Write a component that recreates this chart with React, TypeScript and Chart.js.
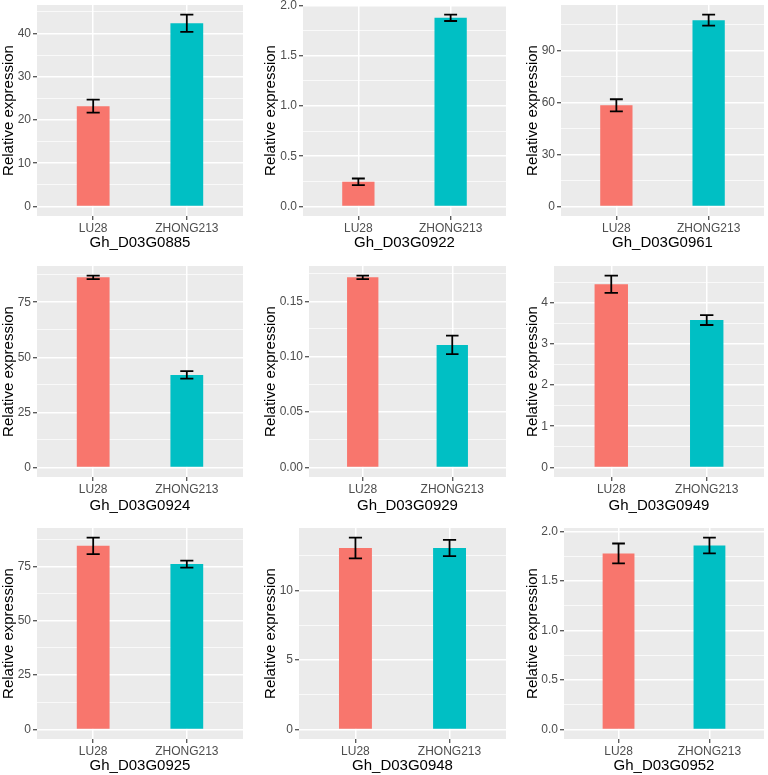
import React, { useEffect, useRef } from "react";
import { Chart, registerables } from "chart.js";

Chart.register(...registerables);

// ---------- data ----------
const genes = [
  "Gh_D03G0885", "Gh_D03G0922", "Gh_D03G0961",
  "Gh_D03G0924", "Gh_D03G0929", "Gh_D03G0949",
  "Gh_D03G0925", "Gh_D03G0948", "Gh_D03G0952",
];
const categories = ["LU28", "ZHONG213"];
const lu28Mean = [23.2, 0.245, 58.4, 86.3, 0.1716, 4.45, 84.5, 13.04, 1.78];
const lu28Sd = [1.5, 0.033, 3.5, 0.8, 0.0016, 0.21, 3.8, 0.75, 0.1];
const zhongMean = [42.4, 1.878, 107.6, 42.0, 0.1106, 3.58, 76.1, 13.04, 1.86];
const zhongSd = [2.0, 0.032, 3.2, 1.7, 0.0084, 0.12, 1.6, 0.58, 0.08];
const yTickStep = [10, 0.5, 30, 25, 0.05, 1, 25, 5, 0.5];
const yTickDecimals = [0, 1, 0, 0, 2, 0, 0, 0, 1];
const yTitle = "Relative expression";

// ---------- layout / style ----------
const barColors = ["#F8766D", "#00BFC4"];
const FONT = "'Liberation Sans', Arial, Helvetica, sans-serif";
const COL_X = [0, 256, 512];
const ROW_Y = [0, 261, 522];
const ROW_H = [261, 261, 253];
const PLOT_LEFT = [37, 303, 561, 37, 309, 554, 37, 299, 564];
const PLOT_RIGHT = [243, 506, 764, 243, 506, 764, 243, 506, 764];
const PLOT_TOP = [5, 5, 5, 266, 266, 266, 528, 528, 528];
const PLOT_BOTTOM = [216, 216, 216, 477, 477, 477, 739, 739, 739];
const YTITLE_PAD = [0, 6, 12];
const XTITLE_PAD = [9, 7, 0];

const bgPlugin = {
  id: "panelBg",
  beforeDraw(chart: any) {
    const { ctx, chartArea } = chart;
    ctx.save();
    ctx.fillStyle = "#EBEBEB";
    ctx.fillRect(chartArea.left, chartArea.top, chartArea.right - chartArea.left, chartArea.bottom - chartArea.top);
    ctx.restore();
  },
};

const errorBarPlugin = {
  id: "errorbars",
  afterDatasetsDraw(chart: any, _args: any, opts: any) {
    const { ctx } = chart;
    const xs = chart.scales.x;
    const ys = chart.scales.y;
    const meta = chart.getDatasetMeta(0);
    const ds = chart.data.datasets[0];
    ctx.save();
    ctx.strokeStyle = "#000000";
    ctx.lineWidth = 1.8;
    meta.data.forEach((el: any, i: number) => {
      const pt = ds.data[i];
      const sd = opts.sds[i];
      const x = el.x;
      const half = xs.getPixelForValue(pt.x + 0.07) - xs.getPixelForValue(pt.x);
      const yHi = ys.getPixelForValue(pt.y + sd);
      const yLo = ys.getPixelForValue(pt.y - sd);
      ctx.beginPath();
      ctx.moveTo(x, yHi);
      ctx.lineTo(x, yLo);
      ctx.moveTo(x - half, yHi);
      ctx.lineTo(x + half, yHi);
      ctx.moveTo(x - half, yLo);
      ctx.lineTo(x + half, yLo);
      ctx.stroke();
    });
    ctx.restore();
  },
};

function Panel({ idx }: { idx: number }) {
  const ref = useRef<HTMLCanvasElement>(null);
  const row = Math.floor(idx / 3);
  const col = idx % 3;
  const x0 = COL_X[col];
  const y0 = ROW_Y[row];
  const W = 256;
  const H = ROW_H[row];

  useEffect(() => {
    if (!ref.current) return;
    const means = [lu28Mean[idx], zhongMean[idx]];
    const sds = [lu28Sd[idx], zhongSd[idx]];
    const top = Math.max(means[0] + sds[0], means[1] + sds[1]);
    const yMin = -0.05 * top;
    const yMax = 1.05 * top;
    const step = yTickStep[idx];
    const half = step / 2;
    const dec = yTickDecimals[idx];

    const chart = new Chart(ref.current, {
      type: "bar",
      data: {
        datasets: [
          {
            data: categories.map((c, i) => ({ x: i + 1, y: means[i] })),
            backgroundColor: barColors,
            borderWidth: 0,
            barPercentage: 0.35,
            categoryPercentage: 1,
          } as any,
        ],
      },
      options: {
        responsive: false,
        animation: false,
        devicePixelRatio: 1,
        events: [],
        layout: {
          padding: {
            left: 0,
            top: PLOT_TOP[idx] - y0,
            right: x0 + W - PLOT_RIGHT[idx],
            bottom: 0,
          },
        },
        plugins: {
          legend: { display: false },
          tooltip: { enabled: false },
          errorbars: { sds },
        } as any,
        scales: {
          x: {
            type: "linear",
            min: 0.4,
            max: 2.6,
            offset: false,
            border: { display: false },
            grid: {
              offset: false,
              color: "#FFFFFF",
              lineWidth: 1.5,
              drawTicks: true,
              tickLength: 4,
              tickColor: "#333333",
              tickWidth: 1.1,
            },
            ticks: {
              autoSkip: false,
              maxRotation: 0,
              padding: 1,
              color: "#4D4D4D",
              font: { family: FONT, size: 12 },
              callback: (v: any) => categories[Math.round(Number(v)) - 1] ?? "",
            },
            title: {
              display: true,
              text: genes[idx],
              color: "#000000",
              font: { family: FONT, size: 15 },
              padding: { top: 0, bottom: XTITLE_PAD[row] },
            },
            afterBuildTicks: (s: any) => {
              s.ticks = categories.map((c, i) => ({ value: i + 1 }));
            },
            afterFit: (s: any) => {
              s.height = H - (PLOT_BOTTOM[idx] - y0);
              s.paddingLeft = 0;
              s.paddingRight = 0;
            },
          },
          y: {
            type: "linear",
            min: yMin,
            max: yMax,
            border: { display: false },
            grid: {
              color: "#FFFFFF",
              lineWidth: (c: any) => (c.tick && c.tick.minor ? 0.7 : 1.5),
              drawTicks: true,
              tickLength: 4,
              tickColor: (c: any) => (c.tick && c.tick.minor ? "rgba(0,0,0,0)" : "#333333"),
              tickWidth: 1.1,
            },
            ticks: {
              autoSkip: false,
              padding: 2,
              color: "#4D4D4D",
              font: { family: FONT, size: 12 },
              callback: (v: any, i: number, ticks: any[]) =>
                ticks[i] && ticks[i].minor ? "" : Number(v).toFixed(dec),
            },
            title: {
              display: true,
              text: yTitle,
              color: "#000000",
              font: { family: FONT, size: 15 },
              padding: { top: YTITLE_PAD[col], bottom: 0 },
            },
            afterBuildTicks: (s: any) => {
              const t: any[] = [];
              const kStart = Math.ceil(yMin / half - 1e-9);
              const kEnd = Math.floor(yMax / half + 1e-9);
              for (let k = kStart; k <= kEnd; k++) {
                const value = Math.round(k * half * 1e6) / 1e6;
                t.push({ value, minor: k % 2 !== 0 });
              }
              s.ticks = t;
            },
            afterFit: (s: any) => {
              s.width = PLOT_LEFT[idx] - x0;
              s.paddingTop = 0;
              s.paddingBottom = 0;
            },
          },
        },
      } as any,
      plugins: [bgPlugin, errorBarPlugin],
    });
    return () => chart.destroy();
  }, [idx]);

  return (
    <canvas
      ref={ref}
      width={W}
      height={H}
      style={{ position: "absolute", left: x0, top: y0, width: W, height: H }}
    />
  );
}

export default function App() {
  return (
    <div
      style={{
        position: "absolute",
        left: 0,
        top: 0,
        width: 768,
        height: 775,
        background: "#FFFFFF",
        overflow: "hidden",
      }}
    >
      {genes.map((g, i) => (
        <Panel key={g} idx={i} />
      ))}
    </div>
  );
}
